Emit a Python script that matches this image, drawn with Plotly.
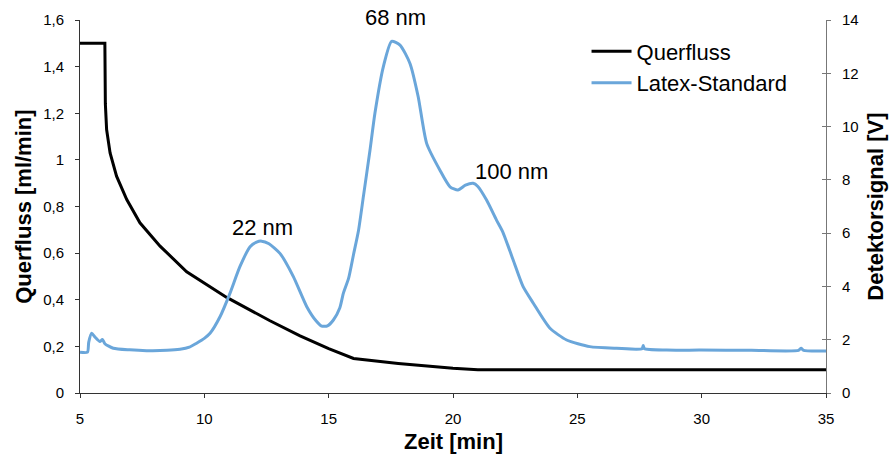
import plotly.graph_objects as go

# ---- data ----
zeit_querfluss = [5.0, 6.0, 6.02, 6.07, 6.21, 6.47, 6.88, 7.41, 8.22, 9.29, 10.9, 12.64,
                  13.85, 15.0, 16.0, 17.8, 20.0, 21.0, 35.0]
querfluss = [1.5, 1.5, 1.24, 1.13, 1.03, 0.93, 0.83, 0.73, 0.63, 0.52, 0.41, 0.31,
             0.245, 0.19, 0.148, 0.127, 0.106, 0.1, 0.1]

zeit_latex = [5.0, 5.3, 5.35, 5.47, 5.6, 5.8, 5.9, 6.0, 6.34, 7.0, 7.68, 8.5, 9.02, 9.4,
              9.69, 10.0, 10.23, 10.63, 11.03, 11.43, 11.84, 12.1, 12.3, 12.6, 13.04,
              13.58, 14.12, 14.5, 14.72, 14.95, 15.19, 15.45, 15.59, 15.8, 16.0, 16.2,
              16.4, 16.66, 16.86, 17.2, 17.53, 17.87, 18.27, 18.6, 18.94, 19.47, 19.88,
              20.2, 20.5, 20.81, 21.0, 21.35, 21.75, 22.0, 22.42, 22.82, 23.23, 23.9,
              24.57, 25.5, 26.58, 27.6, 27.65, 27.7, 28.59, 29.93, 32.0, 33.9, 34.0,
              34.1, 35.0]
latex = [1.53, 1.53, 1.9, 2.24, 2.1, 1.93, 2.01, 1.85, 1.68, 1.62, 1.59, 1.6, 1.64, 1.72,
         1.87, 2.05, 2.24, 2.86, 3.74, 4.74, 5.49, 5.66, 5.7, 5.6, 5.24,
         4.37, 3.24, 2.7, 2.51, 2.52, 2.74, 3.2, 3.74, 4.3, 5.2, 6.1,
         7.4, 9.1, 10.5, 12.25, 13.2, 13.06, 12.37, 11.12, 9.37, 8.37, 7.74,
         7.62, 7.8, 7.87, 7.75, 7.24, 6.49, 6.05, 4.99, 3.99, 3.37, 2.43,
         1.99, 1.74, 1.68, 1.66, 1.78, 1.66, 1.61, 1.61, 1.6, 1.6, 1.68,
         1.6, 1.58]

x_ticks = [5, 10, 15, 20, 25, 30, 35]
left_tickvals = [0, 0.2, 0.4, 0.6, 0.8, 1.0, 1.2, 1.4, 1.6]
left_ticktext = ["0", "0,2", "0,4", "0,6", "0,8", "1", "1,2", "1,4", "1,6"]
right_ticks = [0, 2, 4, 6, 8, 10, 12, 14]

peak_labels = ["22 nm", "68 nm", "100 nm"]
peak_x = [12.32, 17.67, 22.37]
peak_y = [5.67, 13.55, 7.77]   # bottom of label box, detector axis

FONT = "Liberation Sans, Arial, sans-serif"
BLUE = "#6AA6DA"

fig = go.Figure()
fig.add_trace(go.Scatter(x=zeit_querfluss, y=querfluss, mode="lines", name="Querfluss",
                         line=dict(color="black", width=3), yaxis="y"))
fig.add_trace(go.Scatter(x=zeit_latex, y=latex, mode="lines", name="Latex-Standard",
                         line=dict(color=BLUE, width=3, shape="spline", smoothing=0.6),
                         yaxis="y2"))
fig.add_trace(go.Scatter(x=[None], y=[None], yaxis="y3", showlegend=False, hoverinfo="skip"))

for t, xx, yy in zip(peak_labels, peak_x, peak_y):
    fig.add_annotation(x=xx, y=yy, xref="x", yref="y2", text=t, showarrow=False,
                       xanchor="center", yanchor="bottom",
                       font=dict(family=FONT, size=22, color="black"))

title_font = dict(family=FONT, size=22, color="black")
fig.add_annotation(x=0.5, y=-0.13, xref="paper", yref="paper", text="<b>Zeit [min]</b>",
                   showarrow=False, xanchor="center", yanchor="middle", font=title_font)
fig.add_annotation(x=-0.076, y=0.5, xref="paper", yref="paper",
                   text="<b>Querfluss [ml/min]</b>", textangle=-90, showarrow=False,
                   xanchor="center", yanchor="middle", font=title_font)
fig.add_annotation(x=1.066, y=0.5, xref="paper", yref="paper",
                   text="<b>Detektorsignal [V]</b>", textangle=-90, showarrow=False,
                   xanchor="center", yanchor="middle", font=title_font)

fig.update_layout(
    width=890, height=461,
    margin=dict(l=80, r=64, t=20, b=68, autoexpand=False),
    paper_bgcolor="white", plot_bgcolor="white",
    font=dict(family=FONT, size=15, color="black"),
    showlegend=True,
    legend=dict(x=0.679, y=0.972, xanchor="left", yanchor="top",
                font=dict(family=FONT, size=22, color="black"),
                bgcolor="rgba(0,0,0,0)", itemwidth=40, tracegroupgap=0),
    xaxis=dict(range=[5, 35], tickvals=x_ticks, ticks="outside", ticklen=4,
               tickcolor="#333", showline=True, linecolor="#333", linewidth=1,
               showgrid=False, zeroline=False, ticklabelstandoff=8, automargin=False),
    yaxis=dict(range=[0, 1.6], tickvals=left_tickvals, ticktext=left_ticktext,
               ticks="outside", ticklen=4, tickcolor="#333", showline=True,
               linecolor="#333", linewidth=1, showgrid=False, zeroline=False,
               ticklabelstandoff=8, automargin=False),
    yaxis2=dict(range=[0, 14], tickvals=right_ticks, overlaying="y", side="right",
                anchor="x", ticks="outside", ticklen=4, tickcolor="#777",
                showline=True, linecolor="#777", linewidth=1, showgrid=False,
                zeroline=False, ticklabelstandoff=8, automargin=False),
    yaxis3=dict(range=[0, 14], tickvals=right_ticks, overlaying="y", side="right",
                anchor="x", ticks="inside", ticklen=4, tickcolor="#777",
                showline=False, showgrid=False, zeroline=False, showticklabels=False,
                automargin=False),
)

fig.write_html("out.html")
